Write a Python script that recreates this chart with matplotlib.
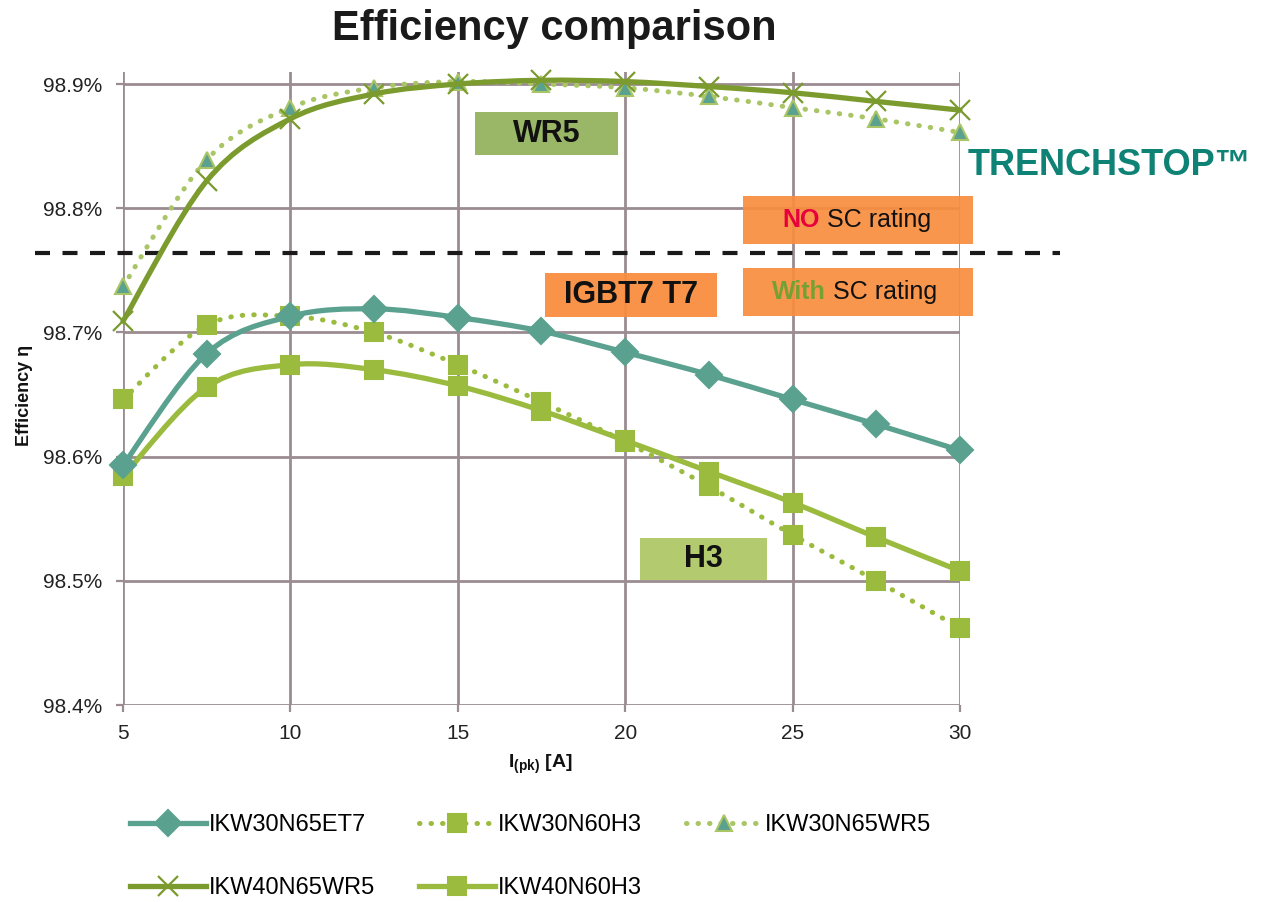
import numpy as np
import matplotlib
matplotlib.use('Agg')
import matplotlib.pyplot as plt
from matplotlib.path import Path
from matplotlib.patches import PathPatch, Rectangle
from matplotlib.lines import Line2D
from matplotlib.ticker import FuncFormatter, MultipleLocator

plt.rcParams['font.family'] = ['Liberation Sans', 'DejaVu Sans']
plt.rcParams['mathtext.fontset'] = 'custom'
plt.rcParams['mathtext.bf'] = 'Liberation Sans:bold'
plt.rcParams['mathtext.rm'] = 'Liberation Sans'

# 数据 (效率 %)
current = [5, 7.5, 10, 12.5, 15, 17.5, 20, 22.5, 25, 27.5, 30]
ikw30n65et7 = [98.593, 98.683, 98.713, 98.719, 98.712, 98.701, 98.684, 98.666, 98.646, 98.626, 98.605]
ikw30n60h3 = [98.646, 98.706, 98.713, 98.700, 98.674, 98.644, 98.612, 98.576, 98.537, 98.500, 98.462]
ikw30n65wr5 = [98.737, 98.839, 98.881, 98.897, 98.902, 98.900, 98.897, 98.890, 98.881, 98.872, 98.861]
ikw40n65wr5 = [98.709, 98.822, 98.872, 98.892, 98.900, 98.903, 98.902, 98.898, 98.893, 98.886, 98.879]
ikw40n60h3 = [98.584, 98.656, 98.674, 98.670, 98.657, 98.637, 98.613, 98.588, 98.563, 98.535, 98.508]
sc_limit = 98.764

c_et7 = '#5ba18f'
c_h3 = '#9bbb3f'
c_wr5 = '#7b9b2f'
c_wr5_dot = '#a9c565'
c_grid = '#9a8c90'
c_orange = '#f98d3f'


def smooth_path(x, y):
    # Excel风格平滑线 (Catmull-Rom -> Bezier)
    pts = np.column_stack([x, y])
    verts = [pts[0]]
    codes = [Path.MOVETO]
    n = len(pts)
    for i in range(n - 1):
        p0 = pts[i - 1] if i > 0 else pts[i]
        p1 = pts[i]
        p2 = pts[i + 1]
        p3 = pts[i + 2] if i + 2 < n else pts[i + 1]
        c1 = p1 + (p2 - p0) / 6.0
        c2 = p2 - (p3 - p1) / 6.0
        verts += [c1, c2, p2]
        codes += [Path.CURVE4] * 3
    return Path(verts, codes)


fig = plt.figure(figsize=(12.81, 9.02), dpi=100)
ax = fig.add_axes([0.096, 0.2184, 0.6534, 0.7022])

dot_ls = (0, (0.1, 2.2))
series = [
    # data, color, ls, lw, marker, ms, mfc, mec, label
    (ikw30n65wr5, c_wr5_dot, dot_ls, 3.6, '^', 11, c_et7, c_wr5_dot, 'IKW30N65WR5'),
    (ikw40n65wr5, c_wr5, '-', 3.8, 'x', 14, c_wr5, c_wr5, 'IKW40N65WR5'),
    (ikw30n60h3, c_h3, dot_ls, 3.6, 's', 13, c_h3, c_h3, 'IKW30N60H3'),
    (ikw40n60h3, c_h3, '-', 3.8, 's', 13, c_h3, c_h3, 'IKW40N60H3'),
    (ikw30n65et7, c_et7, '-', 3.8, 'D', 13, c_et7, c_et7, 'IKW30N65ET7'),
]

handles = {}
for z, (vals, col, ls, lw, mk, ms, mfc, mec, lab) in enumerate(series):
    patch = PathPatch(smooth_path(current, vals), fill=False, edgecolor=col,
                      linewidth=lw, linestyle=ls, capstyle='round',
                      zorder=3 + z, clip_on=False)
    ax.add_patch(patch)
    mew = 1.6 if mk == 'x' else 1.5
    ax.plot(current, vals, linestyle='none', marker=mk, markersize=ms,
            markerfacecolor=mfc, markeredgecolor=mec, markeredgewidth=mew,
            zorder=3.5 + z, clip_on=False)
    handles[lab] = Line2D([], [], color=col, lw=lw, linestyle=ls,
                          dash_capstyle='round', marker=mk, markersize=ms,
                          markerfacecolor=mfc, markeredgecolor=mec,
                          markeredgewidth=mew)

# 分界线
ax.axhline(sc_limit, xmin=-0.105, xmax=1.119, color='#1a1a1a', lw=3,
           dashes=(3.6, 3.0), clip_on=False, zorder=2.5)

ax.set_xlim(5, 30)
ax.set_ylim(98.4, 98.91)
ax.xaxis.set_major_locator(MultipleLocator(5))
ax.set_yticks([98.4, 98.5, 98.6, 98.7, 98.8, 98.9])
ax.yaxis.set_major_formatter(FuncFormatter(lambda v, p: '{:.1f}%'.format(v)))
ax.grid(True, color=c_grid, lw=2)
ax.set_axisbelow(True)
for s in ax.spines.values():
    s.set_visible(False)
ax.tick_params(axis='both', length=5, width=1.6, color=c_grid,
               labelsize=15, labelcolor='#222222')
ax.tick_params(axis='y', pad=10)
ax.tick_params(axis='x', pad=9)

# 标注框
boxes = [
    (15.51, 98.8428, 4.27, 0.0347, '#94b35e', 'WR5'),
    (17.60, 98.7124, 5.14, 0.0354, c_orange, 'IGBT7 T7'),
    (20.44, 98.5006, 3.80, 0.0339, '#b0c867', 'H3'),
]
for bx, by, bw, bh, bc, txt in boxes:
    ax.add_patch(Rectangle((bx, by), bw, bh, facecolor=bc, edgecolor='none',
                           alpha=0.95, zorder=9, clip_on=False))
    ax.text(bx + bw / 2, by + bh / 2, txt, ha='center', va='center',
            fontsize=22, fontweight='bold', color='#111111', zorder=10)

for by, word, wcol, xs in [(98.7712, 'NO', '#e8003c', 25.92),
                           (98.7132, 'With', '#77a033', 26.10)]:
    ax.add_patch(Rectangle((23.52, by), 6.87, 0.0386, facecolor=c_orange,
                           edgecolor='none', alpha=0.92, zorder=9, clip_on=False))
    ax.text(xs - 0.1, by + 0.0193, word, ha='right', va='center', fontsize=18,
            fontweight='bold', color=wcol, zorder=10)
    ax.text(xs + 0.1, by + 0.0193, 'SC rating', ha='left', va='center',
            fontsize=18, color='#111111', zorder=10)

fig.text(0.7557, 0.817, 'TRENCHSTOP™', ha='left', va='center', fontsize=26,
         fontweight='bold', color='#0e8274')

fig.text(0.433, 0.968, 'Efficiency comparison', ha='center', va='center',
         fontsize=30, fontweight='bold', color='#1a1a1a')
fig.text(0.0195, 0.562, 'Efficiency η', rotation=90, ha='center', va='center',
         fontsize=13, fontweight='bold', color='#111111')
fig.text(0.4215, 0.152, r'$\mathbf{I_{(pk)}}$ [A]', ha='center', va='center',
         fontsize=14, fontweight='bold', color='#111111')

# ncol=3 按列填充, 调整顺序使其按行显示
col_order = ['IKW30N65ET7', 'IKW40N65WR5', 'IKW30N60H3', 'IKW40N60H3', 'IKW30N65WR5']
fig.legend([handles[k] for k in col_order], col_order, ncol=3,
           loc='upper left', bbox_to_anchor=(0.1015, 0.0975),
           borderaxespad=0, borderpad=0, frameon=False, fontsize=17,
           handlelength=3.2, handletextpad=0.15, labelspacing=1.75,
           columnspacing=1.85, numpoints=1)

plt.savefig('out.png', dpi=100)
